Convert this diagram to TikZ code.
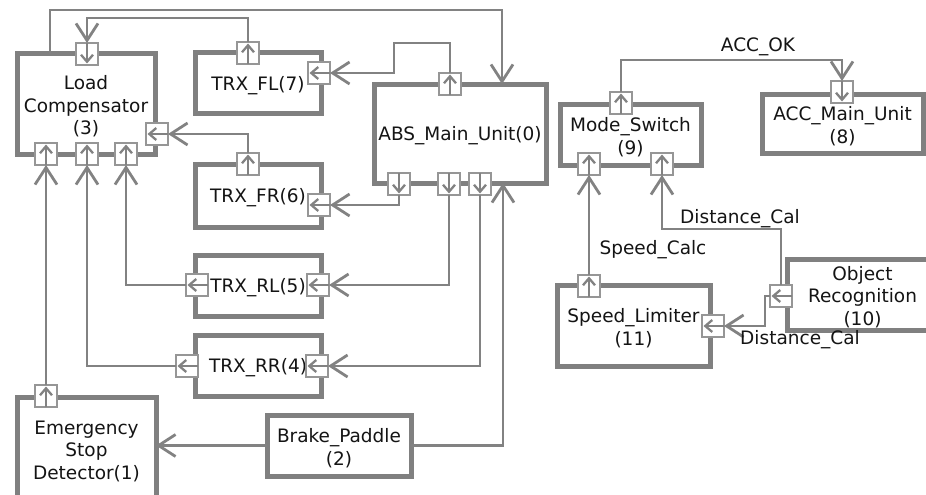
\documentclass[tikz,border=0pt]{standalone}
\usepackage{fontspec}
\setmainfont{DejaVu Sans}
\usetikzlibrary{arrows.meta}
\definecolor{bx}{RGB}{128,128,128}
\definecolor{ln}{RGB}{130,130,130}
\definecolor{pb}{RGB}{150,150,150}
\definecolor{tx}{RGB}{20,20,20}
\begin{document}
\begin{tikzpicture}[x=1pt,y=-1pt,
 box/.style={draw=bx,line width=5pt,fill=white,rectangle,inner sep=0pt,outer sep=0pt},
 txt/.style={align=center,font=\fontsize{18.5}{22.5}\selectfont,text=tx,inner sep=0pt,yshift=-2.5pt},
 port/.style={draw=pb,line width=1.3pt,fill=white,rectangle,minimum size=22pt,inner sep=0pt,outer sep=0pt},
 parr/.style={draw=ln,line width=2.3pt,shorten >=1.5pt,-{Straight Barb[length=7pt,width=12pt]}},
 conn/.style={draw=ln,line width=2.8pt},
 carr/.style={conn,-{Straight Barb[length=17pt,width=22pt]}},
 lbl/.style={font=\fontsize{18.5}{22.5}\selectfont,text=tx,inner sep=0pt}]
\useasboundingbox (0,0) rectangle (926,495);

% boxes
\node[box,minimum width=138pt,minimum height=100pt] (lc) at (86,104) {};
\node[box,minimum width=126pt,minimum height=60pt] (fl) at (258,83) {};
\node[box,minimum width=126pt,minimum height=63pt] (fr) at (258,195.5) {};
\node[box,minimum width=126pt,minimum height=61pt] (rl) at (258,285.5) {};
\node[box,minimum width=126pt,minimum height=61pt] (rr) at (258,365.5) {};
\node[box,minimum width=172pt,minimum height=99pt] (abs) at (460,133.5) {};
\node[box,minimum width=139pt,minimum height=103pt] (esd) at (86.5,448.5) {};
\node[box,minimum width=144pt,minimum height=61pt] (bp) at (339,445.5) {};
\node[box,minimum width=141pt,minimum height=61pt] (ms) at (630.5,134.5) {};
\node[box,minimum width=161pt,minimum height=59pt] (acc) at (842.5,123.5) {};
\node[box,minimum width=153pt,minimum height=81pt] (sl) at (633.5,325.5) {};
\node[box,minimum width=151pt,minimum height=71pt] (or) at (862.5,294.5) {};

% box texts
\node[txt] (lct-t) at (lc.center) {Load\\Compensator\\(3)};
\node[txt] (fl-t) at (fl.center) {TRX\_FL(7)};
\node[txt] (fr-t) at (fr.center) {TRX\_FR(6)};
\node[txt] (rl-t) at (rl.center) {TRX\_RL(5)};
\node[txt] (rr-t) at (rr.center) {TRX\_RR(4)};
\node[txt] (abs-t) at (abs.center) {ABS\_Main\_Unit(0)};
\node[txt] (esd-t) at (esd.center) {Emergency\\Stop\\Detector(1)};
\node[txt] (bp-t) at (bp.center) {Brake\_Paddle\\(2)};
\node[txt] (ms-t) at (ms.center) {Mode\_Switch\\(9)};
\node[txt] (acc-t) at (acc.center) {ACC\_Main\_Unit\\(8)};
\node[txt] (sl-t) at (sl.center) {Speed\_Limiter\\(11)};
\node[txt] (or-t) at (or.center) {Object\\Recognition\\(10)};

% ports
\node[port] (lct) at (87,54) {};
\node[port] (lcB1) at (46,154) {};
\node[port] (lcB2) at (87,154) {};
\node[port] (lcB3) at (126,154) {};
\node[port] (lcR) at (157,134) {};
\node[port] (flT) at (248,53) {};
\node[port] (flR) at (319,73) {};
\node[port] (frT) at (248,164) {};
\node[port] (frR) at (319,205) {};
\node[port] (absT) at (450,84) {};
\node[port] (absB1) at (399,184) {};
\node[port] (absB2) at (449,184) {};
\node[port] (absB3) at (480,184) {};
\node[port] (rlL) at (197,285) {};
\node[port] (rlR) at (318,285) {};
\node[port] (rrL) at (187,366) {};
\node[port] (rrR) at (317,366) {};
\node[port] (esdT) at (46,396) {};
\node[port] (msT) at (621,103) {};
\node[port] (msB1) at (589,164) {};
\node[port] (msB2) at (662,164) {};
\node[port] (accT) at (842,92) {};
\node[port] (slT) at (589,286) {};
\node[port] (slR) at (713,326) {};
\node[port] (orL) at (781,296) {};

% small arrows inside ports
\foreach \p in {lct,absB1,absB2,absB3,accT} \draw[parr] (\p.north) -- (\p.south);
\foreach \p in {lcB1,lcB2,lcB3,flT,frT,absT,esdT,msT,msB1,msB2,slT} \draw[parr] (\p.south) -- (\p.north);
\foreach \p in {lcR,flR,frR,rlL,rlR,rrL,rrR,slR,orL} \draw[parr] (\p.east) -- (\p.west);

% connectors
\draw[carr] (50,0 |- lc.north) -- (50,10) -| (502,0 |- abs.north);
\draw[carr] (flT.north) -- (248,18) -| (lct.north);
\draw[carr] (frT.north) |- (lcR.east);
\draw[carr] (absT.north) -- (450,43) -- (394,43) |- (flR.east);
\draw[carr] (absB1.south) |- (frR.east);
\draw[carr] (absB2.south) |- (rlR.east);
\draw[carr] (absB3.south) |- (rrR.east);
\draw[carr] (bp.east) -| (503,0 |- abs.south);
\draw[carr] (bp.west) -- (esd.east |- bp.west);
\draw[carr] (rlL.west) -| (lcB3.south);
\draw[carr] (rrL.west) -| (lcB2.south);
\draw[carr] (esdT.north) -- (lcB1.south);
\draw[carr] (msT.north) -- (621,60) -| (accT.north);
\draw[carr] (slT.north) -- (msB1.south);
\draw[carr] (orL.north) -- (781,229) -| (msB2.south);
\draw[carr] (orL.west) -- (765,296) |- (slR.east);

% labels
\node[lbl] (l1) at (758,47) {ACC\_OK};
\node[lbl] (l2) at (653,250) {Speed\_Calc};
\node[lbl] (l3) at (740,219) {Distance\_Cal};
\node[lbl] (l4) at (800,340) {Distance\_Cal};
\end{tikzpicture}
\end{document}
